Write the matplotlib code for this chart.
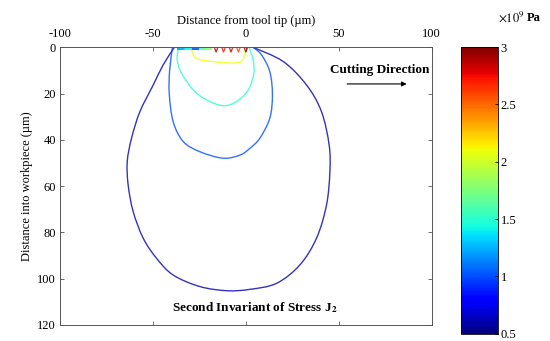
import matplotlib
matplotlib.use("Agg")
import matplotlib.pyplot as plt
import numpy as np
from matplotlib import cm, colors
from matplotlib.path import Path
from matplotlib.patches import PathPatch

plt.rcParams["font.family"] = ["Liberation Serif", "DejaVu Serif"]
plt.rcParams["mathtext.fontset"] = "stix"
plt.rcParams["axes.unicode_minus"] = False

# contour levels (x10^9 Pa) and outlines (x in um, depth in um)
lvl_outer, lvl_mid, lvl_inner, lvl_core = 0.6, 1.0, 1.5, 2.1

outer_x = [-38.5, -44.5, -49.8, -57, -61.5, -63.8, -63.3, -60.6, -55.2, -48,
           -39.1, -24.7, -10, 2.2, 16.5, 29, 38, 43.4, 45.2, 44.8, 40.7, 32.6,
           20.1, 4]
outer_y = [0, 7.6, 16.2, 27.8, 39.3, 49.4, 59.5, 71, 82.5, 91.2,
           98.4, 103.4, 105.2, 104.6, 102, 94.1, 82.5, 68.1, 53.7, 42.2, 27.8,
           16.2, 6.1, 0]

mid_x = [-39.5, -41, -41.2, -39.1, -33.7, -24.7, -12.2, -3, 2.2, 7.5,
         12.9, 14.3, 12.9, 8.4, 4]
mid_y = [0, 10, 20, 32.1, 40.7, 45.1, 47.9, 46.5, 43.6, 39.3,
         30.6, 20.5, 10.5, 3.2, 0]

inner_x = [-36, -36.4, -36.9, -34.6, -28.3, -21.1, -12.2, -5, 1.3, 4.3, 3.9, 2.2, 2]
inner_y = [0, 1.1, 5.4, 11.2, 18.4, 22.7, 25.2, 23.4, 18.4, 11.2, 5.4, 1.1, 0]

core_x = [-30, -29.2, -26.5, -15.8, -5, -1.8, -0.5, 0]
core_y = [0, 1.1, 4.8, 6.3, 6.7, 5.4, 2.5, 0]

# small high-stress spots just under the surface
spot_x = [-16, -12, -8, -4, 0]
spot_lvl = [2.9, 2.7, 2.8, 2.6, 2.9]
band_x = [-35, -31, -27, -23, -20]
band_lvl = [1.2, 1.4, 1.0, 1.6, 1.8]

cmap = cm.jet
norm = colors.Normalize(vmin=0.5, vmax=3)


def smooth_path(xs, ys):
    # Catmull-Rom through the read points, drawn as cubic Bezier segments
    p = np.column_stack([xs, ys]).astype(float)
    p = np.vstack([p[0], p, p[-1]])
    verts = [p[1]]
    codes = [Path.MOVETO]
    for i in range(1, len(p) - 2):
        c1 = p[i] + (p[i + 1] - p[i - 1]) / 6
        c2 = p[i + 1] - (p[i + 2] - p[i]) / 6
        verts += [c1, c2, p[i + 1]]
        codes += [Path.CURVE4] * 3
    return Path(verts, codes)


fig = plt.figure(figsize=(5.5, 3.41), dpi=100)
ax = fig.add_axes([0.109, 0.047, 0.676, 0.814])

for xs, ys, lv in [(outer_x, outer_y, lvl_outer), (mid_x, mid_y, lvl_mid),
                   (inner_x, inner_y, lvl_inner), (core_x, core_y, lvl_core)]:
    ax.add_patch(PathPatch(smooth_path(xs, ys), fill=False,
                           edgecolor=cmap(norm(lv)), lw=1.0, alpha=0.8))

for sx, lv in zip(spot_x, spot_lvl):
    ax.plot([sx - 0.8, sx, sx + 0.8], [0.3, 2.0, 0.3], color=cmap(norm(lv)),
            lw=0.9, alpha=0.85)
for bx, lv in zip(band_x, band_lvl):
    ax.plot([bx - 1.5, bx + 1.5], [0.8, 0.8], color=cmap(norm(lv)), lw=1.5,
            alpha=0.85)

ax.set_xlim(-100, 100)
ax.set_ylim(120, 0)
ax.set_xticks([-100, -50, 0, 50, 100])
ax.set_yticks([0, 20, 40, 60, 80, 100, 120])
ax.xaxis.set_ticks_position("both")
ax.yaxis.set_ticks_position("both")
ax.xaxis.set_label_position("top")
ax.tick_params(direction="in", length=3, width=0.6, color="#555555",
               labelsize=9, labeltop=True, labelbottom=False)
ax.tick_params(axis="x", pad=5)
ax.tick_params(axis="y", pad=3)
for s in ax.spines.values():
    s.set_color("#555555")
    s.set_linewidth(0.7)
ax.set_xlabel("Distance from tool tip (µm)", fontsize=9, labelpad=3)
ax.set_ylabel("Distance into workpiece (µm)", fontsize=9, labelpad=3)

ax.text(72, 9.7, "Cutting Direction", ha="center", va="center",
        fontsize=9.5, fontweight="bold")
ax.annotate("", xy=(88, 15.8), xytext=(53, 15.8),
            arrowprops=dict(arrowstyle="-|>", color="black", lw=0.8,
                            mutation_scale=7))
ax.text(5, 112.6, r"Second Invariant of Stress J$_\mathbf{2}$", ha="center",
        va="center", fontsize=9.5, fontweight="bold")

cax = fig.add_axes([0.838, 0.021, 0.067, 0.841])
sm = cm.ScalarMappable(norm=norm, cmap=cmap)
cb = fig.colorbar(sm, cax=cax, ticks=[0.5, 1, 1.5, 2, 2.5, 3])
cb.ax.set_yticklabels(["0.5", "1", "1.5", "2", "2.5", "3"])
cb.ax.tick_params(direction="in", length=2, width=0.6, labelsize=9, pad=2)
cb.outline.set_linewidth(0.6)
fig.text(0.905, 0.95, r"$\times10^9$", fontsize=9, ha="left", va="center")
fig.text(0.958, 0.947, "Pa", fontsize=9, fontweight="bold", ha="left", va="center")

fig.savefig("out.png", dpi=100)
